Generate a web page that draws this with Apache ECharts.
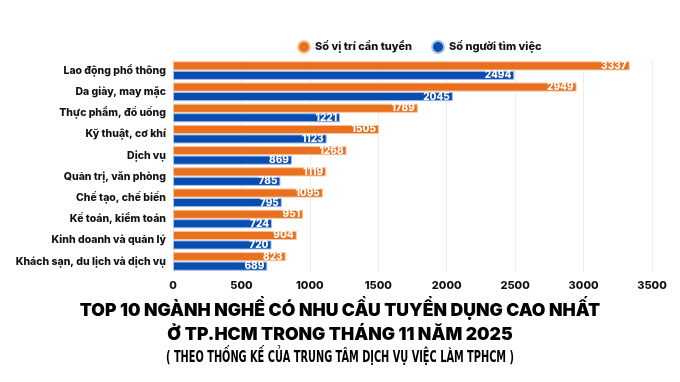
<!DOCTYPE html>
<html><head><meta charset="utf-8">
<script src="https://cdn.jsdelivr.net/npm/echarts@6/dist/echarts.min.js"></script>
<style>html,body{margin:0;padding:0;background:#fff}#c{width:680px;height:382px}</style>
</head><body><div id="c"></div>
<script>
const categories = ["Lao động phổ thông","Da giày, may mặc","Thực phẩm, đồ uống","Kỹ thuật, cơ khí","Dịch vụ","Quản trị, văn phòng","Chế tạo, chế biến","Kế toán, kiểm toán","Kinh doanh và quản lý","Khách sạn, du lịch và dịch vụ"];
const vacancies = [3337,2949,1789,1505,1268,1119,1095,951,904,823];
const seekers = [2494,2045,1221,1123,869,785,795,724,720,689];
const seriesNames = ["Số vị trí cần tuyển","Số người tìm việc"];
const xTicks = [0,500,1000,1500,2000,2500,3000,3500];

const chart = echarts.init(document.getElementById('c'));
const lbl = {show:true, position:'insideRight', color:'#fff', fontSize:10, fontWeight:800, fontFamily:'Inter', distance:3};
chart.setOption({
  animation:false,
  textStyle:{fontFamily:'Inter'},
  legend:{top:35, left:292, itemWidth:12, itemHeight:12, itemGap:19, icon:'circle',
    textStyle:{fontSize:11, fontWeight:800, color:'#111'}, data:seriesNames},
  title:[
    {text:"TOP 10 NGÀNH NGHỀ CÓ NHU CẦU TUYỂN DỤNG CAO NHẤT\nỞ TP.HCM TRONG THÁNG 11 NĂM 2025", left:'center', top:294,
      textStyle:{fontSize:17.6, fontWeight:900, fontFamily:'Inter', color:'#000', lineHeight:23.5, align:'center'}}
  ],
  graphic:[
    {type:'text', x:340, y:358, scaleX:0.68, style:{text:"( THEO THỐNG KẾ CỦA TRUNG TÂM DỊCH VỤ VIỆC LÀM TPHCM )",
      x:0, y:0, align:'center', verticalAlign:'middle', font:'bold 16px "DejaVu Sans Condensed", "DejaVu Sans"', fill:'#000'}}
  ],
  grid:{left:173, right:28, top:60, bottom:110, containLabel:false},
  xAxis:{type:'value', min:0, max:3500, interval:500,
    axisLabel:{fontSize:11, fontWeight:800, color:'#111', margin:8, formatter:v=>xTicks.includes(v)?String(v):''},
    splitLine:{lineStyle:{color:'#ececec'}}, axisLine:{show:false}, axisTick:{show:false}},
  yAxis:{type:'category', data:categories, inverse:true,
    axisLabel:{fontSize:10.5, fontWeight:800, color:'#111', margin:7},
    axisLine:{show:true, lineStyle:{color:'#e6e6e6'}}, axisTick:{show:false}},
  series:[
    {name:seriesNames[0], type:'bar', data:vacancies, barGap:'4%', barCategoryGap:'12%',
      itemStyle:{color:'#E8701E', borderColor:'#F6C7A4', borderWidth:1}, label:lbl},
    {name:seriesNames[1], type:'bar', data:seekers,
      itemStyle:{color:'#0A4DB0', borderColor:'#A9C0EA', borderWidth:1}, label:lbl}
  ]
});
</script></body></html>
